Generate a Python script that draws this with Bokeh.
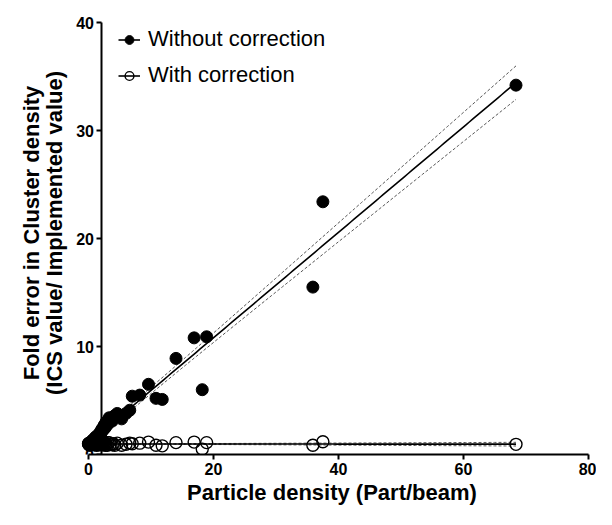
import numpy as np
from bokeh.plotting import figure
from bokeh.models import Range1d, Legend, LegendItem, FixedTicker, LinearAxis
from bokeh.embed import file_html
from bokeh.resources import INLINE

# ---- data ----
particle_density = [0.0, 0.05, 0.1, 0.15, 0.2, 0.3, 0.4, 0.5, 0.6, 0.7,
                    0.8, 0.9, 1.0, 1.1, 1.2, 1.3, 1.4, 1.5, 1.6, 1.7,
                    1.8, 1.9, 2.0, 2.1, 2.2, 2.3, 2.4, 2.5, 2.6, 2.7,
                    2.8, 3.0, 3.1, 3.3, 3.5, 3.8, 4.0, 4.2, 4.6, 5.3,
                    6.0, 6.6, 7.0, 8.2, 9.6, 10.8, 11.8, 14.0, 16.9, 18.2,
                    18.9, 35.9, 37.5, 68.4]
fold_error_without = [1.0, 0.95, 1.0, 0.85, 0.9, 1.05, 1.1, 1.2, 1.3, 1.15,
                      1.4, 1.2, 1.3, 1.6, 1.5, 1.7, 1.5, 1.1, 1.8, 1.9,
                      2.0, 1.7, 2.2, 2.1, 2.4, 1.3, 2.3, 2.7, 2.6, 2.5,
                      3.0, 2.9, 2.8, 3.4, 3.3, 3.1, 3.5, 3.6, 3.8, 3.3,
                      3.8, 4.1, 5.4, 5.5, 6.5, 5.2, 5.1, 8.9, 10.8, 6.0,
                      10.9, 15.5, 23.4, 34.2]
fold_error_with = [1.0, 0.95, 1.05, 0.9, 0.95, 1.0, 1.05, 0.9, 1.0, 1.1,
                   0.95, 1.0, 0.9, 1.05, 1.0, 0.85, 1.1, 0.9, 0.95, 1.05,
                   1.0, 0.9, 1.05, 0.95, 1.0, 0.9, 1.05, 0.95, 1.0, 0.85,
                   1.0, 0.85, 1.1, 1.1, 0.95, 0.9, 1.0, 0.85, 1.05, 0.85,
                   0.95, 1.05, 1.0, 1.05, 1.15, 0.85, 0.8, 1.1, 1.15, 0.5,
                   1.1, 0.85, 1.18, 0.94]
x_ticks = [0, 20, 40, 60, 80]
y_ticks = [0, 10, 20, 30, 40]
series_names = ["Without correction", "With correction"]
x_label = "Particle density (Part/beam)"
y_label = "Fold error in Cluster density\n(ICS value/ Implemented value)"


def linear_fit(x, y, t_crit=2.007):
    """Least-squares line with its 95% confidence band."""
    x = np.asarray(x, dtype=float)
    y = np.asarray(y, dtype=float)
    n = len(x)
    slope, intercept = np.polyfit(x, y, 1)
    resid = y - (slope * x + intercept)
    s = np.sqrt(np.sum(resid ** 2) / (n - 2))
    sxx = np.sum((x - x.mean()) ** 2)
    xs = np.linspace(x.min(), x.max(), 120)
    yhat = slope * xs + intercept
    half = t_crit * s * np.sqrt(1.0 / n + (xs - x.mean()) ** 2 / sxx)
    return xs, yhat, yhat - half, yhat + half


FONT = "Liberation Sans"

p = figure(width=596, height=509,
           x_range=Range1d(-2.08, 80), y_range=Range1d(0, 41.02),
           output_backend="svg", toolbar_location=None,
           min_border_left=75, min_border_right=8,
           min_border_top=11, min_border_bottom=55)
p.grid.visible = False
p.outline_line_color = None
p.background_fill_color = "white"

fits = [linear_fit(particle_density, fold_error_without),
        linear_fit(particle_density, fold_error_with)]

items = {}
# open circles first, filled dots on top
for idx in (1, 0):
    xs, yhat, lo, hi = fits[idx]
    p.line(xs, lo, line_color="#555555", line_width=1, line_dash="3 2")
    p.line(xs, hi, line_color="#555555", line_width=1, line_dash="3 2")
    r_line = p.line(xs, yhat, line_color="black", line_width=1.6)
    if idx == 0:
        r_pts = p.scatter(particle_density, fold_error_without, size=12,
                          marker="circle", fill_color="black",
                          line_color="black", line_width=1)
    else:
        r_pts = p.scatter(particle_density, fold_error_with, size=12,
                          marker="circle", fill_color=None,
                          line_color="black", line_width=1.4)
    items[idx] = LegendItem(label=series_names[idx], renderers=[r_line, r_pts])

legend = Legend(items=[items[0], items[1]], location=(43, 366),
                orientation="vertical", border_line_color=None,
                background_fill_alpha=0, padding=0, margin=0, spacing=10,
                glyph_width=22, glyph_height=25, label_height=25,
                label_standoff=8, label_text_font=FONT,
                label_text_font_size="22px", label_text_color="black")
p.add_layout(legend)


def style_axis(ax):
    ax.axis_line_width = 2
    ax.axis_line_color = "black"
    ax.major_tick_line_width = 2
    ax.major_tick_line_color = "black"
    ax.major_tick_in = 0
    ax.major_tick_out = 5
    ax.minor_tick_line_color = None
    ax.major_label_text_font = FONT
    ax.major_label_text_font_style = "bold"
    ax.major_label_text_font_size = "16px"
    ax.major_label_text_color = "black"
    ax.axis_label_text_font = FONT
    ax.axis_label_text_font_style = "bold"
    ax.axis_label_text_font_size = "22px"
    ax.axis_label_text_color = "black"


# x axis
xax = p.xaxis[0]
style_axis(xax)
xax.ticker = FixedTicker(ticks=x_ticks)
xax.bounds = (0, 80)
xax.major_label_standoff = 3
xax.axis_label = x_label
xax.axis_label_standoff = 2

# left panel axis that only carries the title text
ylab = p.yaxis[0]
style_axis(ylab)
ylab.ticker = FixedTicker(ticks=[])
ylab.axis_line_color = None
ylab.major_tick_out = 0
ylab.axis_label = y_label
ylab.axis_label_standoff = 9
ylab.axis_label_text_line_height = 0.9

# the visible y axis, crossing the x axis at x = 2 as in the original
yax = LinearAxis(ticker=FixedTicker(ticks=y_ticks), fixed_location=2.0,
                 bounds=(0, 40))
style_axis(yax)
yax.major_label_standoff = 2
p.add_layout(yax, "left")

open("out.html", "w").write(file_html(p, INLINE))
